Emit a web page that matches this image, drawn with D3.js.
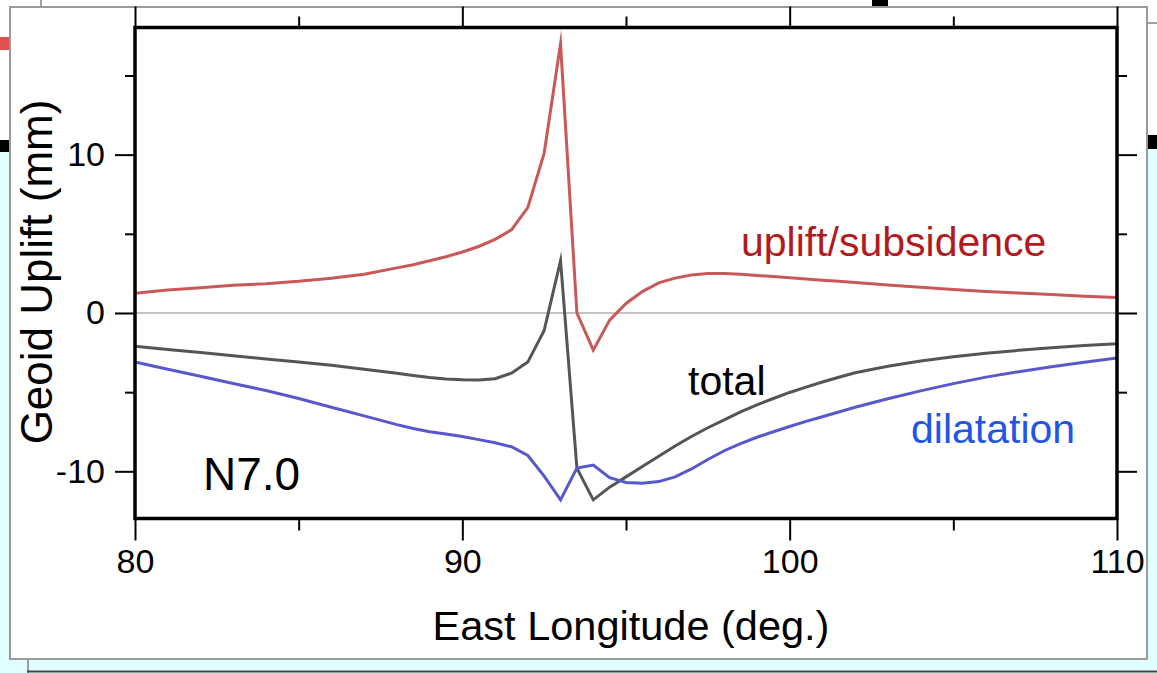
<!DOCTYPE html>
<html>
<head>
<meta charset="utf-8">
<script src="https://cdn.jsdelivr.net/npm/d3@7"></script>
<style>
  html, body { margin: 0; padding: 0; background: #e0ffff; }
  svg { display: block; font-family: "Liberation Sans", Arial, Helvetica, sans-serif; }
</style>
</head>
<body>
<svg id="chart" width="1157" height="673"></svg>
<script>
// Longitude grid (deg E) along the N7.0 profile
const lon = [80, 81, 82, 83, 84, 85, 86, 87, 88, 88.5, 89, 89.5, 90, 90.5, 91, 91.5, 92, 92.5,
             93, 93.5, 94, 94.5, 95, 95.5, 96, 96.5, 97, 97.5, 98, 98.5, 99, 99.5, 100, 100.5,
             101, 101.5, 102, 103, 104, 105, 106, 107, 108, 109, 110];

// Geoid change components (mm)
const uplift = [1.25, 1.45, 1.6, 1.75, 1.85, 2.0, 2.2, 2.45, 2.85, 3.05, 3.3, 3.55, 3.85, 4.2,
                4.65, 5.25, 6.65, 10.1, 17.0, 0.0, -2.35, -0.45, 0.6, 1.35, 1.9, 2.2, 2.4, 2.5,
                2.5, 2.45, 2.37, 2.3, 2.22, 2.15, 2.07, 2.0, 1.92, 1.77, 1.62, 1.48, 1.36, 1.26,
                1.16, 1.06, 0.97];

const dilatation = [-3.1, -3.55, -4.0, -4.45, -4.9, -5.4, -5.95, -6.5, -7.05, -7.3, -7.5, -7.65,
                    -7.8, -8.0, -8.2, -8.45, -9.0, -10.3, -11.8, -9.8, -9.6, -10.4, -10.7, -10.75,
                    -10.65, -10.35, -9.85, -9.25, -8.7, -8.25, -7.85, -7.5, -7.17, -6.85, -6.55,
                    -6.25, -5.95, -5.42, -4.92, -4.46, -4.05, -3.71, -3.4, -3.11, -2.85];

const total = [-2.1, -2.3, -2.5, -2.7, -2.9, -3.1, -3.3, -3.55, -3.8, -3.95, -4.08, -4.17, -4.22,
               -4.24, -4.15, -3.8, -3.1, -1.1, 3.3, -9.8, -11.8, -11.0, -10.35, -9.7, -9.05, -8.4,
               -7.8, -7.25, -6.75, -6.25, -5.8, -5.4, -5.02, -4.68, -4.36, -4.06, -3.78, -3.36,
               -3.03, -2.76, -2.55, -2.36, -2.2, -2.06, -1.95];

// Axis ticks
const xMajor = [80, 90, 100, 110];
const xMinor = [85, 95, 105];
const yMajor = [-10, 0, 10];
const yMinor = [-5, 5, 15];

const series = [
  { name: "uplift/subsidence", values: uplift, stroke: "#c95858", label: "#b31a1e", lx: 741, ly: 256 },
  { name: "total", values: total, stroke: "#555555", label: "#000000", lx: 688, ly: 395 },
  { name: "dilatation", values: dilatation, stroke: "#5858cc", label: "#1f56e6", lx: 911, ly: 443 }
];

const svg = d3.select("#chart");

// Surrounding window chrome
svg.append("rect").attr("x", 0).attr("y", 0).attr("width", 1157).attr("height", 673).attr("fill", "#e0ffff");
svg.append("rect").attr("x", 0).attr("y", 0).attr("width", 1157).attr("height", 150).attr("fill", "#ffffff");
svg.append("rect").attr("x", 0).attr("y", 37).attr("width", 12).attr("height", 13).attr("fill", "#e05050");
svg.append("rect").attr("x", 0).attr("y", 140).attr("width", 12).attr("height", 12).attr("fill", "#000");
svg.append("rect").attr("x", 1147).attr("y", 135).attr("width", 10).attr("height", 14).attr("fill", "#000");
svg.append("rect").attr("x", 872).attr("y", 0).attr("width", 16).attr("height", 6).attr("fill", "#000");
svg.append("line").attr("x1", 1147).attr("x2", 1157).attr("y1", 23).attr("y2", 23).attr("stroke", "#444");
svg.append("line").attr("x1", 41).attr("x2", 41).attr("y1", 0).attr("y2", 7).attr("stroke", "#444");
svg.append("line").attr("x1", 27).attr("x2", 1157).attr("y1", 671.5).attr("y2", 671.5).attr("stroke", "#444").attr("stroke-width", 2);
svg.append("line").attr("x1", 28).attr("x2", 28).attr("y1", 659).attr("y2", 673).attr("stroke", "#444");

// White figure panel
svg.append("rect").attr("x", 10).attr("y", 7).attr("width", 1137).attr("height", 652)
  .attr("fill", "#ffffff").attr("stroke", "#9a9a9a").attr("stroke-width", 2);

const plotLeft = 135, plotRight = 1117, plotTop = 27.5, plotBottom = 518.5;

const x = d3.scaleLinear().domain([80, 110]).range([plotLeft, plotRight]);
const y = d3.scaleLinear().domain([-12.98, 18.03]).range([plotBottom, plotTop]);

const tickStyle = g => {
  g.select(".domain").remove();
  g.selectAll(".tick line").attr("stroke", "#000").attr("stroke-width", 2);
  g.selectAll(".tick text").attr("fill", "#000").attr("font-size", 34)
    .attr("font-family", "Liberation Sans, Arial, Helvetica, sans-serif");
};

// Bottom axis
svg.append("g").attr("transform", `translate(0,${plotBottom})`)
  .call(d3.axisBottom(x).tickValues(xMajor).tickSize(22).tickPadding(8.5).tickFormat(d3.format("d")))
  .call(tickStyle);
svg.append("g").attr("transform", `translate(0,${plotBottom})`)
  .call(d3.axisBottom(x).tickValues(xMinor).tickSize(12).tickFormat(""))
  .call(tickStyle);
// Top axis
svg.append("g").attr("transform", `translate(0,${plotTop})`)
  .call(d3.axisTop(x).tickValues(xMajor).tickSize(21).tickFormat(""))
  .call(tickStyle);
svg.append("g").attr("transform", `translate(0,${plotTop})`)
  .call(d3.axisTop(x).tickValues(xMinor).tickSize(11).tickFormat(""))
  .call(tickStyle);
// Left axis
svg.append("g").attr("transform", `translate(${plotLeft},0)`)
  .call(d3.axisLeft(y).tickValues(yMajor).tickSize(20).tickPadding(10).tickFormat(d => d3.format("d")(d).replace("−", "-")))
  .call(tickStyle);
svg.append("g").attr("transform", `translate(${plotLeft},0)`)
  .call(d3.axisLeft(y).tickValues(yMinor).tickSize(10).tickFormat(""))
  .call(tickStyle);
// Right axis
svg.append("g").attr("transform", `translate(${plotRight},0)`)
  .call(d3.axisRight(y).tickValues(yMajor).tickSize(20).tickFormat(""))
  .call(tickStyle);
svg.append("g").attr("transform", `translate(${plotRight},0)`)
  .call(d3.axisRight(y).tickValues(yMinor).tickSize(10).tickFormat(""))
  .call(tickStyle);

// Zero reference line
svg.append("line")
  .attr("x1", plotLeft).attr("x2", plotRight)
  .attr("y1", y(0)).attr("y2", y(0))
  .attr("stroke", "#c4c4c4").attr("stroke-width", 2);

// Profiles
const plot = svg.append("g");
series.forEach(s => {
  const line = d3.line().x((d, i) => x(lon[i])).y(d => y(d));
  plot.append("path")
    .datum(s.values)
    .attr("d", line)
    .attr("fill", "none")
    .attr("stroke", s.stroke)
    .attr("stroke-width", 3)
    .attr("stroke-linejoin", "miter")
    .attr("stroke-miterlimit", 10);
  svg.append("text")
    .attr("x", s.lx).attr("y", s.ly)
    .attr("font-size", 41)
    .attr("fill", s.label)
    .text(s.name);
});

// Plot frame
svg.append("rect")
  .attr("x", plotLeft).attr("y", plotTop)
  .attr("width", plotRight - plotLeft).attr("height", plotBottom - plotTop)
  .attr("fill", "none").attr("stroke", "#000").attr("stroke-width", 3.5);

// Profile name
svg.append("text").attr("x", 203).attr("y", 490).attr("font-size", 46).attr("fill", "#000").text("N7.0");

// Axis titles
svg.append("text")
  .attr("x", (plotLeft + plotRight) / 2 + 5).attr("y", 640)
  .attr("text-anchor", "middle").attr("font-size", 41.5).attr("fill", "#000")
  .text("East Longitude (deg.)");
svg.append("text")
  .attr("transform", "translate(52,272) rotate(-90)")
  .attr("text-anchor", "middle").attr("font-size", 44).attr("fill", "#000")
  .text("Geoid Uplift (mm)");
</script>
</body>
</html>
